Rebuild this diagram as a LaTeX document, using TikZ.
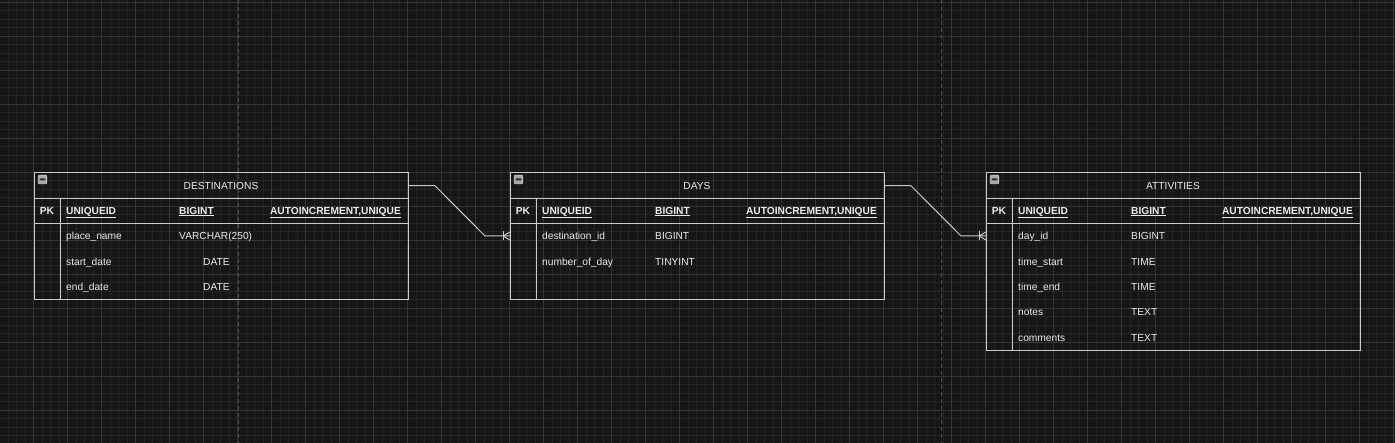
\documentclass[tikz,border=0pt]{standalone}
\usepackage{fontspec}
\setmainfont{Liberation Sans}
\definecolor{canvas}{HTML}{161616}
\definecolor{minorgrid}{HTML}{242424}
\definecolor{majorgrid}{HTML}{353535}
\definecolor{pageline}{HTML}{4c4c4c}
\definecolor{tableline}{HTML}{cacaca}
\definecolor{fieldtext}{HTML}{ececec}
\definecolor{iconfill}{HTML}{a8a8a8}
\definecolor{iconbar}{HTML}{2a2a2a}

\begin{document}
\begin{tikzpicture}[x=1pt,y=-1pt,
  minorline/.style={draw=minorgrid,line width=0.8pt},
  majorline/.style={draw=majorgrid,line width=0.9pt},
  pagebreak/.style={draw=pageline,line width=1pt,dash pattern=on 4pt off 3pt},
  tablebox/.style={draw=tableline,line width=1pt,anchor=north west,minimum width=374pt,inner sep=0pt,outer sep=0pt},
  headbox/.style={anchor=north west,minimum width=374pt,minimum height=25.5pt,inner sep=0pt,outer sep=0pt,text=fieldtext,font=\fontsize{10.2}{12}\selectfont,text height=7.3pt,text depth=0pt},
  sepline/.style={draw=tableline,line width=1pt},
  field/.style={text=fieldtext,font=\fontsize{10.2}{12}\selectfont,inner sep=0pt,text height=7.3pt,text depth=0pt,anchor=west},
  keyfield/.style={field,font=\fontsize{10.2}{12}\selectfont\bfseries},
  collapse/.style={draw=tableline,fill=iconfill,line width=0.6pt,minimum size=8.5pt,inner sep=0pt,rounded corners=0.8pt,
    path picture={\fill[iconbar] ([xshift=-3pt,yshift=-1pt]path picture bounding box.center) rectangle ++(6,-2);}},
  link/.style={draw=tableline,line width=1pt},
  ]

\fill[canvas] (0,0) rectangle (1395,443);
\useasboundingbox (0,0) rectangle (1395,443);

\foreach \i in {0,...,163} \draw[minorline] ({8+8.5*\i},0) -- ++(0,443);
\foreach \i in {0,...,51} \draw[minorline] (0,{2+8.5*\i}) -- ++(1395,0);
\foreach \i in {0,...,40} \draw[majorline] ({33.5+34*\i},0) -- ++(0,443);
\foreach \i in {0,...,12} \draw[majorline] (0,{2+34*\i}) -- ++(1395,0);

\draw[pagebreak] (238,0) -- (238,443);
\draw[pagebreak] (941.5,0) -- (941.5,443);

% destinations
\node[tablebox,minimum height=126.5pt] (destinations) at (34,173) {};
\node[headbox] (destinationsHead) at (34,173) {DESTINATIONS};
\node[collapse] (destinationsIcon) at (42.5,179.5) {};
\draw[sepline] (34,198.5) -- (408,198.5);
\draw[sepline] (34,223.8) -- (408,223.8);
\draw[sepline] (60,198.5) -- (60,299.5);
\node[keyfield,anchor=center] (destinationsPK) at (47,210.5) {PK};
\node[keyfield] (destinationsId) at (66,210.5) {\underline{UNIQUEID}};
\node[keyfield] (destinationsIdType) at (179,210.5) {\underline{BIGINT}};
\node[keyfield,anchor=east] (destinationsIdOpt) at (401,210.5) {\underline{AUTOINCREMENT,UNIQUE}};
\node[field] (destinationsPlace) at (66,236) {place\_name};
\node[field] (destinationsPlaceType) at (179,236) {VARCHAR(250)};
\node[field] (destinationsStart) at (66,261.4) {start\_date};
\node[field] (destinationsStartType) at (203,261.4) {DATE};
\node[field] (destinationsEnd) at (66,286.8) {end\_date};
\node[field] (destinationsEndType) at (203,286.8) {DATE};

% days
\node[tablebox,minimum height=126.5pt] (days) at (510,173) {};
\node[headbox] (daysHead) at (510,173) {DAYS};
\node[collapse] (daysIcon) at (518.5,179.5) {};
\draw[sepline] (510,198.5) -- (884,198.5);
\draw[sepline] (510,223.8) -- (884,223.8);
\draw[sepline] (536,198.5) -- (536,299.5);
\node[keyfield,anchor=center] (daysPK) at (523,210.5) {PK};
\node[keyfield] (daysId) at (542,210.5) {\underline{UNIQUEID}};
\node[keyfield] (daysIdType) at (655,210.5) {\underline{BIGINT}};
\node[keyfield,anchor=east] (daysIdOpt) at (877,210.5) {\underline{AUTOINCREMENT,UNIQUE}};
\node[field] (daysDestId) at (542,236) {destination\_id};
\node[field] (daysDestIdType) at (655,236) {BIGINT};
\node[field] (daysNumber) at (542,261.4) {number\_of\_day};
\node[field] (daysNumberType) at (655,261.4) {TINYINT};

% attivities
\node[tablebox,minimum height=177.7pt] (attivities) at (986,173) {};
\node[headbox] (attivitiesHead) at (986,173) {ATTIVITIES};
\node[collapse] (attivitiesIcon) at (994.5,179.5) {};
\draw[sepline] (986,198.5) -- (1360,198.5);
\draw[sepline] (986,223.8) -- (1360,223.8);
\draw[sepline] (1012,198.5) -- (1012,350.7);
\node[keyfield,anchor=center] (attivitiesPK) at (999,210.5) {PK};
\node[keyfield] (attivitiesId) at (1018,210.5) {\underline{UNIQUEID}};
\node[keyfield] (attivitiesIdType) at (1131,210.5) {\underline{BIGINT}};
\node[keyfield,anchor=east] (attivitiesIdOpt) at (1353,210.5) {\underline{AUTOINCREMENT,UNIQUE}};
\node[field] (attivitiesDayId) at (1018,236) {day\_id};
\node[field] (attivitiesDayIdType) at (1131,236) {BIGINT};
\node[field] (attivitiesStart) at (1018,261.4) {time\_start};
\node[field] (attivitiesStartType) at (1131,261.4) {TIME};
\node[field] (attivitiesEnd) at (1018,286.8) {time\_end};
\node[field] (attivitiesEndType) at (1131,286.8) {TIME};
\node[field] (attivitiesNotes) at (1018,312.2) {notes};
\node[field] (attivitiesNotesType) at (1131,312.2) {TEXT};
\node[field] (attivitiesComments) at (1018,337.6) {comments};
\node[field] (attivitiesCommentsType) at (1131,337.6) {TEXT};

% relations
\coordinate (daysFk) at (days.west |- daysDestId);
\coordinate (attivitiesFk) at (attivities.west |- attivitiesDayId);

\draw[link] (destinationsHead.east) -- ++(27,0) -- ([xshift=-25pt]daysFk) -- (daysFk);
\draw[link] ([xshift=-7pt]daysFk) ++(0,-4.5) -- ++(0,9);
\draw[link] ([xshift=-7pt]daysFk) -- ++(7,-4) ([xshift=-7pt]daysFk) -- ++(7,4);

\draw[link] (daysHead.east) -- ++(27,0) -- ([xshift=-25pt]attivitiesFk) -- (attivitiesFk);
\draw[link] ([xshift=-7pt]attivitiesFk) ++(0,-4.5) -- ++(0,9);
\draw[link] ([xshift=-7pt]attivitiesFk) -- ++(7,-4) ([xshift=-7pt]attivitiesFk) -- ++(7,4);

\end{tikzpicture}
\end{document}
